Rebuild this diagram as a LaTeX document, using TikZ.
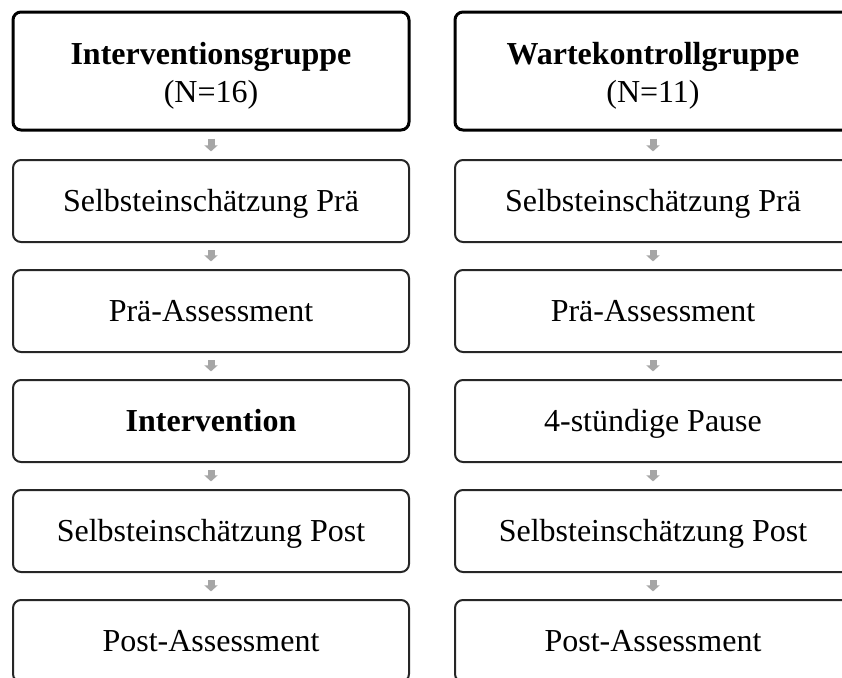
\documentclass[tikz,border=0pt]{standalone}
\usepackage{fontspec}
\setmainfont{Liberation Serif}
\usepackage{tikz}
\usetikzlibrary{arrows.meta,positioning}
\definecolor{pfeilgrau}{RGB}{166,166,166}

\begin{document}
\begin{tikzpicture}[x=0.5pt,y=-0.5pt]
\tikzstyle{kopf}=[rectangle,rounded corners=4pt,draw=black,line width=1.5pt,minimum width=198pt,minimum height=59pt,align=center,inner sep=2pt,font=\fontsize{16}{19}\selectfont]
\tikzstyle{schritt}=[rectangle,rounded corners=4pt,draw=black!85,line width=1pt,minimum width=198pt,minimum height=41pt,align=center,inner sep=2pt,text height=13pt,text depth=3pt,font=\fontsize{16}{19}\selectfont]
\tikzstyle{pfeil}=[draw=pfeilgrau,line width=3.5pt,-{Triangle[width=6.5pt,length=3pt]},shorten <=3.5pt,shorten >=3.8pt]
\useasboundingbox (0,0) rectangle (842,677);
\node [kopf] (l0) at(211,71) {\rule{0pt}{16pt}\textbf{Interventionsgruppe}\\(N=16)};
\node [schritt] (l1) at(211,201) {Selbsteinschätzung Prä};
\node [schritt] (l2) at(211,311) {Prä-Assessment};
\node [schritt] (l3) at(211,421) {\textbf{Intervention}};
\node [schritt] (l4) at(211,531) {Selbsteinschätzung Post};
\node [schritt] (l5) at(211,641) {Post-Assessment};
\node [kopf] (r0) at(653,71) {\rule{0pt}{16pt}\textbf{Wartekontrollgruppe}\\(N=11)};
\node [schritt] (r1) at(653,201) {Selbsteinschätzung Prä};
\node [schritt] (r2) at(653,311) {Prä-Assessment};
\node [schritt] (r3) at(653,421) {4-stündige Pause};
\node [schritt] (r4) at(653,531) {Selbsteinschätzung Post};
\node [schritt] (r5) at(653,641) {Post-Assessment};
\path (l0) edge[pfeil] (l1);
\path (l1) edge[pfeil] (l2);
\path (l2) edge[pfeil] (l3);
\path (l3) edge[pfeil] (l4);
\path (l4) edge[pfeil] (l5);
\path (r0) edge[pfeil] (r1);
\path (r1) edge[pfeil] (r2);
\path (r2) edge[pfeil] (r3);
\path (r3) edge[pfeil] (r4);
\path (r4) edge[pfeil] (r5);
\end{tikzpicture}
\end{document}
